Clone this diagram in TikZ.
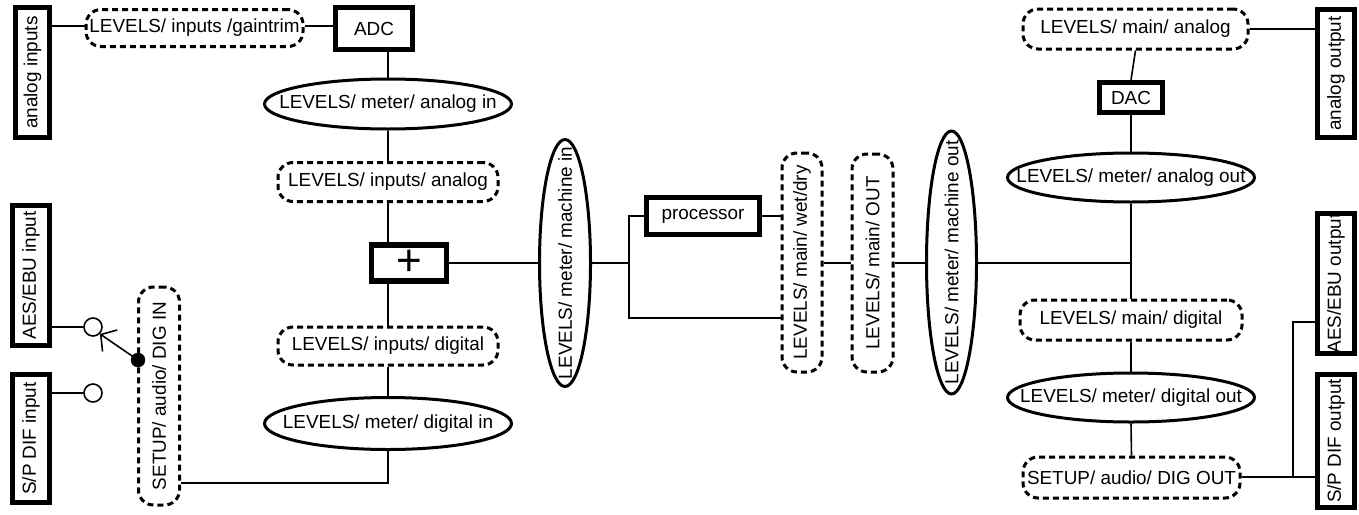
\documentclass[tikz,border=0pt]{standalone}
\usepackage{fontspec}
\setmainfont{Liberation Sans}
\usepackage{graphicx}
\usetikzlibrary{shapes.geometric,arrows.meta,calc}

\tikzset{
  every node/.style={font=\fontsize{18.9}{22}\selectfont, inner sep=0pt, align=center},
  wire/.style={line width=1.6pt},
  hwbox/.style={draw, line width=5.5pt, rectangle},
  meterell/.style={draw, line width=3pt, ellipse, fill=white},
  levelbox/.style={draw, line width=3pt, dash pattern=on 6pt off 4pt, rounded corners=15pt, rectangle},
  port/.style={draw, line width=1.6pt, circle, minimum size=18pt, fill=white},
  pivot/.style={draw, fill=black, circle, minimum size=14pt}
}
% rotated label, reading upwards
\newcommand{\vtext}[1]{\rotatebox{90}{#1}}
% labels that do not widen the ellipse around them
\newcommand{\htight}[1]{\makebox[0pt]{#1}}
\newcommand{\vtight}[1]{\rotatebox{90}{\makebox[0pt]{#1}}}

\begin{document}
\begin{tikzpicture}[x=1pt, y=-1pt]
\useasboundingbox (0,0) rectangle (1359,514);

% ---- input side
\node[hwbox, minimum width=34pt, minimum height=130pt] (ain) at (32.5,72.5) {\vtext{analog inputs}};
\node[levelbox, minimum width=217pt, minimum height=37pt] (gain) at (194.5,28) {LEVELS/ inputs /gaintrim};
\node[hwbox, minimum width=77pt, minimum height=42pt] (adc) at (374,28.5) {ADC};
\node[meterell, minimum width=247pt, minimum height=50pt] (mai) at (388,104) {\htight{LEVELS/ meter/ analog in}};
\node[levelbox, minimum width=220pt, minimum height=39pt] (ian) at (388,182) {LEVELS/ inputs/ analog};
\node[hwbox, minimum width=75pt, minimum height=36pt] (plus) at (409,263) {{\fontsize{44}{44}\selectfont +}};
\node[levelbox, minimum width=220pt, minimum height=38pt] (idg) at (388,346) {LEVELS/ inputs/ digital};
\node[meterell, minimum width=247pt, minimum height=52pt] (mdi) at (388,423.5) {\htight{LEVELS/ meter/ digital in}};

\node[hwbox, minimum width=37pt, minimum height=140pt] (aesin) at (31,275.5) {\vtext{AES/EBU input}};
\node[hwbox, minimum width=37pt, minimum height=128pt] (spin) at (31,438.5) {\vtext{S/P DIF input}};
\node[port] (c1) at (93,327) {};
\node[port] (c2) at (93,393) {};
\node[pivot] (dot) at (138,360) {};
\node[levelbox, minimum width=41pt, minimum height=218pt] (setup) at (159,396) {\vtext{SETUP/ audio/ DIG IN}};

% ---- processing
\node[meterell, minimum width=51pt, minimum height=247pt] (mmi) at (565,263) {\vtight{LEVELS/ meter/ machine in}};
\node[hwbox, minimum width=113pt, minimum height=37pt] (proc) at (703,216) {processor};
\node[levelbox, minimum width=40pt, minimum height=219pt] (wd) at (802,262.5) {\vtext{LEVELS/ main/ wet/dry}};
\node[levelbox, minimum width=41pt, minimum height=218pt] (mout) at (872.5,263) {\vtext{LEVELS/ main/ OUT}};
\node[meterell, minimum width=50pt, minimum height=263pt] (mmo) at (951.5,262.5) {\vtight{LEVELS/ meter/ machine out}};
\coordinate (br) at (629,263);
\coordinate (jn) at (1131,263);

% ---- output side
\node[levelbox, minimum width=225pt, minimum height=40pt] (mana) at (1135.5,29) {LEVELS/ main/ analog};
\node[hwbox, minimum width=37pt, minimum height=128pt] (aout) at (1336,73.5) {\vtext{analog output}};
\node[hwbox, minimum width=63pt, minimum height=30pt] (dac) at (1131,97.5) {DAC};
\node[meterell, minimum width=247pt, minimum height=49pt] (mao) at (1131,177.5) {\htight{LEVELS/ meter/ analog out}};
\node[levelbox, minimum width=222pt, minimum height=40pt] (mdg) at (1131,320) {LEVELS/ main/ digital};
\node[meterell, minimum width=247pt, minimum height=49pt] (mdo) at (1131,397.5) {\htight{LEVELS/ meter/ digital out}};
\node[levelbox, minimum width=217pt, minimum height=41pt] (dout) at (1131.5,477.5) {SETUP/ audio/ DIG OUT};
\node[hwbox, minimum width=37pt, minimum height=138pt] (aesout) at (1336,283.5) {\vtext{AES/EBU output}};
\node[hwbox, minimum width=37pt, minimum height=133pt] (spout) at (1336,441) {\vtext{S/P DIF output}};
\coordinate (b2) at (1293,477);

% ---- connectors, input side
\draw[wire] (ain.east |- 0,26) -- (gain.west |- 0,26);
\draw[wire] (gain.east |- 0,26) -- (adc.west |- 0,26);
\draw[wire] (mai.north |- adc.south) -- (mai.north);
\draw[wire] (mai.south) -- (ian.north);
\draw[wire] (ian.south) -- (ian.south |- plus.north);
\draw[wire] (idg.north |- plus.south) -- (idg.north);
\draw[wire] (idg.south) -- (mdi.north);
\draw[wire] (mdi.south) |- ($(setup.east)+(0,87)$);
\draw[wire] (aesin.east |- c1) -- (c1.west);
\draw[wire] (spin.east |- c2) -- (c2.west);
\draw[wire, -{Straight Barb[length=11pt, width=26pt, line width=1.6pt]}] (dot.center) -- (c1.south east);

% ---- connectors, processing
\draw[wire] (plus.east) -- (mmi.west |- plus.east);
\draw[wire] (mmi.east |- br) -- (br);
\draw[wire] (br) |- (proc.west);
\draw[wire] (br) |- (wd.west |- 0,318);
\draw[wire] (proc.east) -- (wd.west |- proc.east);
\draw[wire] (wd.east |- br) -- (mout.west |- br);
\draw[wire] (mout.east |- br) -- (mmo.west |- br);
\draw[wire] (mmo.east |- br) -- (jn);

% ---- connectors, output side
\draw[wire] (mana.south) -- (dac.north);
\draw[wire] (dac.south) -- (mao.north);
\draw[wire] (mao.south) -- (mdg.north);
\draw[wire] (mdg.south) -- (mdo.north);
\draw[wire] (mdo.south) -- (dout.north);
\draw[wire] (mana.east) -- (aout.west |- mana.east);
\draw[wire] (dout.east |- b2) -- (spout.west |- b2);
\draw[wire] (b2) |- (aesout.west |- 0,322);
\end{tikzpicture}
\end{document}
